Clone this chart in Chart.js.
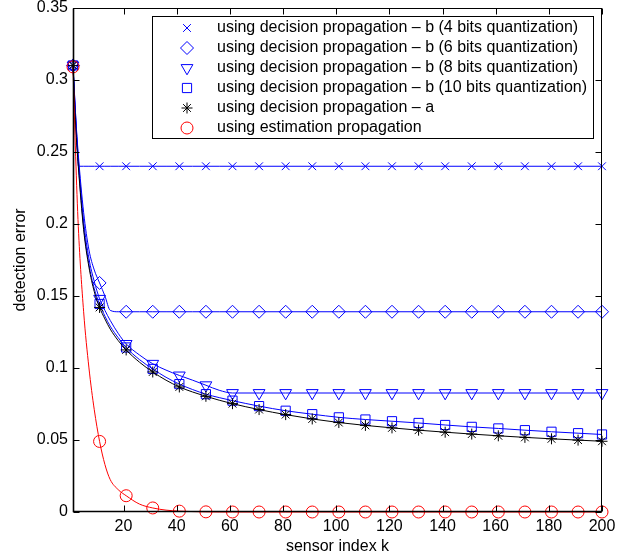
<!DOCTYPE html>
<html>
<head>
<meta charset="utf-8">
<script src="https://cdn.jsdelivr.net/npm/chart.js@4"></script>
<style>
  html, body { margin: 0; padding: 0; background: #fff; }
  #wrap { width: 624px; height: 556px; }
</style>
</head>
<body>
<div id="wrap"><canvas id="chart" width="624" height="556"></canvas></div>
<script>
// sensor index grid
const sensorK = [1, 2, 3, 5, 7, 9, 11, 13, 15, 18, 21, 26, 31, 36, 41, 46, 51, 56, 61,
  71, 81, 91, 101, 111, 121, 131, 141, 151, 161, 171, 181, 191, 200];
// where markers are drawn
const markerK = [1, 11, 21, 31, 41, 51, 61, 71, 81, 91, 101, 111, 121, 131, 141, 151,
  161, 171, 181, 191, 200];

const bits4Err = [0.310, 0.275, 0.240, 0.240, 0.240, 0.240, 0.240, 0.240, 0.240, 0.240,
  0.240, 0.240, 0.240, 0.240, 0.240, 0.240, 0.240, 0.240, 0.240,
  0.240, 0.240, 0.240, 0.240, 0.240, 0.240, 0.240, 0.240, 0.240, 0.240, 0.240, 0.240, 0.240, 0.240];
const bits6Err = [0.310, 0.275, 0.248, 0.208, 0.182, 0.168, 0.159, 0.150, 0.140, 0.139,
  0.139, 0.139, 0.139, 0.139, 0.139, 0.139, 0.139, 0.139, 0.139,
  0.139, 0.139, 0.139, 0.139, 0.139, 0.139, 0.139, 0.139, 0.139, 0.139, 0.139, 0.139, 0.139, 0.139];
const bits8Err = [0.310, 0.272, 0.245, 0.202, 0.176, 0.160, 0.148, 0.140, 0.133, 0.124,
  0.1167, 0.109, 0.1029, 0.0985, 0.0948, 0.0915, 0.0880, 0.0845, 0.0826,
  0.0826, 0.0826, 0.0826, 0.0826, 0.0826, 0.0826, 0.0826, 0.0826, 0.0826, 0.0826, 0.0826, 0.0826, 0.0826, 0.0826];
const bits10Err = [0.310, 0.270, 0.242, 0.198, 0.172, 0.155, 0.1444, 0.136, 0.129, 0.121,
  0.1142, 0.1058, 0.0993, 0.0935, 0.0888, 0.0850, 0.0818, 0.0794, 0.0773,
  0.0735, 0.0703, 0.0679, 0.0657, 0.0642, 0.0630, 0.0618, 0.0604, 0.0591, 0.0580, 0.0568, 0.0557, 0.0547, 0.0538];
const decisionAErr = [0.310, 0.268, 0.240, 0.196, 0.170, 0.153, 0.142, 0.134, 0.127, 0.119,
  0.1125, 0.1040, 0.0972, 0.0915, 0.0868, 0.0833, 0.0803, 0.0776, 0.0752,
  0.0711, 0.0676, 0.0646, 0.0621, 0.0601, 0.0584, 0.0568, 0.0554, 0.0541, 0.0529, 0.0518, 0.0508, 0.0499, 0.0491];
const estimationErr = [0.309, 0.247, 0.198, 0.139, 0.100, 0.071, 0.049, 0.033, 0.0225, 0.0155,
  0.0113, 0.0055, 0.0028, 0.0013, 0.0006, 0.0003, 0.0001, 0, 0,
  0, 0, 0, 0, 0, 0, 0, 0, 0, 0, 0, 0, 0, 0];

const xTicks = [20, 40, 60, 80, 100, 120, 140, 160, 180, 200];
const yTicks = [0, 0.05, 0.1, 0.15, 0.2, 0.25, 0.3, 0.35];

const seriesLabels = [
  'using decision propagation \u2013 b (4 bits quantization)',
  'using decision propagation \u2013 b (6 bits quantization)',
  'using decision propagation \u2013 b (8 bits quantization)',
  'using decision propagation \u2013 b (10 bits quantization)',
  'using decision propagation \u2013 a',
  'using estimation propagation',
];
const seriesValues = [bits4Err, bits6Err, bits8Err, bits10Err, decisionAErr, estimationErr];

const blue = '#0000ff';
const seriesStyle = [
  { color: blue, marker: 'crossRot', radius: 5.5, rotation: 0, tension: 0 },
  { color: blue, marker: 'rectRot', radius: 6.5, rotation: 0 },
  { color: blue, marker: 'triangle', radius: 6.8, rotation: 180 },
  { color: blue, marker: 'rect', radius: 6.5, rotation: 0 },
  { color: '#000000', marker: 'star', radius: 5.5, rotation: 0 },
  { color: '#ff0000', marker: 'circle', radius: 6, rotation: 0 },
];

const fontFamily = '"Liberation Sans", Arial, Helvetica, sans-serif';
Chart.defaults.font.family = fontFamily;
Chart.defaults.font.size = 16;
Chart.defaults.color = '#000';

const markerSet = new Set(markerK);

const datasets = seriesLabels.map((label, i) => {
  const st = seriesStyle[i];
  return {
    label,
    data: sensorK.map((k, j) => ({ x: k, y: seriesValues[i][j] })),
    borderColor: st.color,
    backgroundColor: 'rgba(0,0,0,0)',
    borderWidth: 1,
    pointStyle: st.marker,
    pointRotation: st.rotation,
    pointBorderColor: st.color,
    pointBackgroundColor: 'rgba(0,0,0,0)',
    pointBorderWidth: 1,
    pointRadius: (c) => (markerSet.has(sensorK[c.dataIndex]) ? st.radius : 0),
    markerRadius: st.radius,
    cubicInterpolationMode: st.tension === 0 ? 'default' : 'monotone',
    tension: 0,
    clip: false,
    order: seriesLabels.length - i,
  };
});

// box around plot area with inward ticks (matlab look)
const axesBox = {
  id: 'axesBox',
  afterDatasetsDraw(chart) {
    const { ctx, chartArea: a, scales } = chart;
    const L = Math.round(a.left) + 0.5, R = Math.round(a.right) - 0.5;
    const T = Math.round(a.top) + 0.5, B = Math.round(a.bottom) - 0.5;
    ctx.save();
    ctx.strokeStyle = '#000';
    ctx.lineWidth = 1;
    ctx.strokeRect(L, T, R - L, B - T);
    // left and bottom axis lines are a bit heavier
    ctx.lineWidth = 1.6;
    ctx.beginPath();
    ctx.moveTo(L, T); ctx.lineTo(L, B); ctx.lineTo(R, B);
    ctx.stroke();
    ctx.lineWidth = 1;
    ctx.beginPath();
    xTicks.forEach((v) => {
      const x = Math.round(scales.x.getPixelForValue(v)) + 0.5;
      ctx.moveTo(x, B); ctx.lineTo(x, B - 6);
      ctx.moveTo(x, T); ctx.lineTo(x, T + 6);
    });
    yTicks.forEach((v) => {
      const y = Math.round(scales.y.getPixelForValue(v)) + 0.5;
      ctx.moveTo(L, y); ctx.lineTo(L + 6, y);
      ctx.moveTo(R, y); ctx.lineTo(R - 6, y);
    });
    ctx.stroke();
    ctx.restore();
  },
};

const insideLegend = {
  id: 'insideLegend',
  afterDraw(chart) {
    const { ctx, chartArea: a } = chart;
    ctx.save();
    ctx.font = '16px ' + fontFamily;
    const textW = Math.max(...seriesLabels.map((t) => ctx.measureText(t).width));
    const w = Math.round(65 + textW + 6);
    const h = 122;
    const right = Math.round(a.right) - 9;
    const left = right - w;
    const top = Math.round(a.top) + 8;
    ctx.fillStyle = '#fff';
    ctx.fillRect(left, top, w, h);
    ctx.strokeStyle = '#000';
    ctx.lineWidth = 1;
    ctx.strokeRect(left + 0.5, top + 0.5, w, h);
    chart.data.datasets.forEach((ds, i) => {
      const y = top + 12 + i * 20;
      ctx.strokeStyle = ds.borderColor;
      ctx.fillStyle = 'rgba(0,0,0,0)';
      Chart.helpers.drawPoint(ctx, {
        pointStyle: ds.pointStyle,
        rotation: ds.pointRotation,
        radius: ds.markerRadius,
        borderWidth: 1,
      }, left + 35, y);
      ctx.fillStyle = '#000';
      ctx.textBaseline = 'middle';
      ctx.textAlign = 'left';
      ctx.fillText(ds.label, left + 65, y);
    });
    ctx.restore();
  },
};

new Chart(document.getElementById('chart'), {
  type: 'line',
  data: { datasets },
  options: {
    responsive: false,
    animation: false,
    events: [],
    layout: { padding: { top: 7, right: 22, left: 0, bottom: 0 } },
    plugins: { legend: { display: false }, tooltip: { enabled: false } },
    scales: {
      x: {
        type: 'linear',
        min: 1,
        max: 200,
        afterBuildTicks: (s) => { s.ticks = xTicks.map((v) => ({ value: v })); },
        afterFit: (s) => { s.height = 44; s.paddingLeft = 0; s.paddingRight = 0; },
        grid: { display: false, drawTicks: false },
        border: { display: false },
        ticks: { padding: 5, maxRotation: 0, autoSkip: false, color: '#000' },
        title: { display: true, text: 'sensor index k', color: '#000', padding: 0 },
      },
      y: {
        type: 'linear',
        min: 0,
        max: 0.35,
        afterBuildTicks: (s) => { s.ticks = yTicks.map((v) => ({ value: v })); },
        afterFit: (s) => { s.width = 73; s.paddingTop = 0; s.paddingBottom = 0; },
        grid: { display: false, drawTicks: false },
        border: { display: false },
        ticks: {
          padding: 5,
          autoSkip: false,
          color: '#000',
          callback: (v) => String(+Number(v).toFixed(2)),
        },
        title: { display: true, text: 'detection error', color: '#000', padding: { top: 11, bottom: 0 } },
      },
    },
  },
  plugins: [axesBox, insideLegend],
});
</script>
</body>
</html>
